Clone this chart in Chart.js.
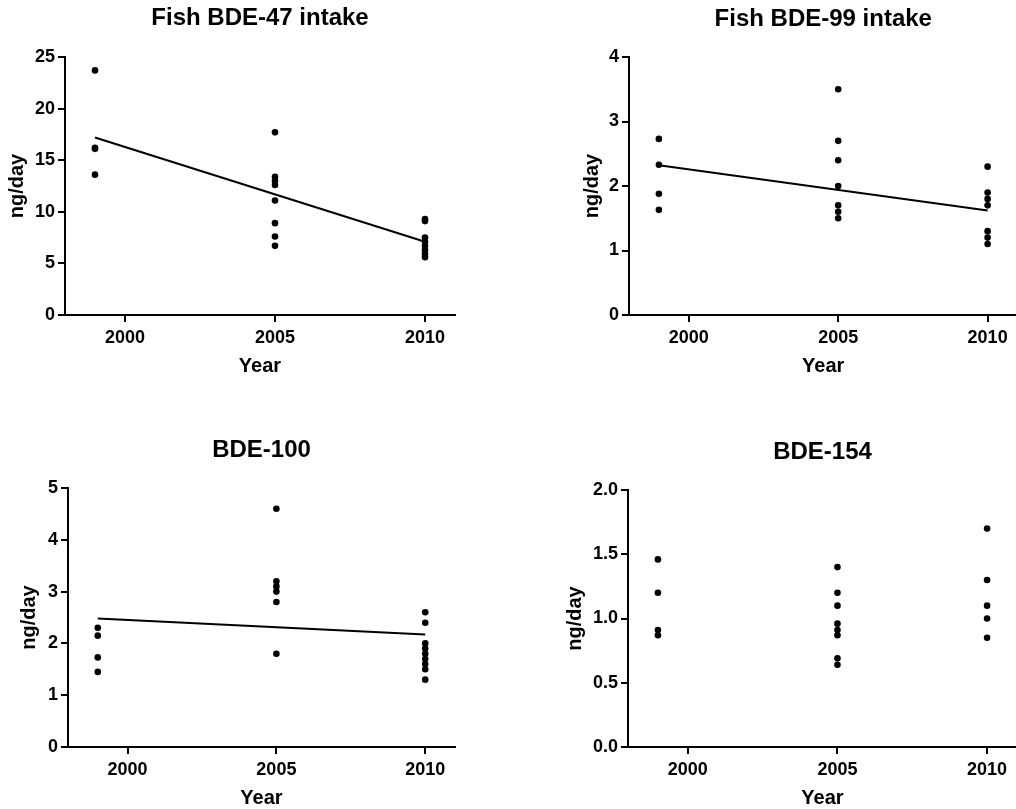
<!DOCTYPE html>
<html>
<head>
<meta charset="utf-8">
<script src="https://cdn.jsdelivr.net/npm/chart.js@4/dist/chart.umd.min.js"></script>
<style>
html, body { margin:0; padding:0; background:#fff; overflow:hidden; width:1016px; height:809px; }
canvas { position:absolute; }
</style>
</head>
<body>
<canvas id="c1" width="520" height="380" style="left:0px;top:0px"></canvas>
<canvas id="c2" width="516" height="380" style="left:564px;top:0px"></canvas>
<canvas id="c3" width="523" height="408" style="left:0px;top:404px"></canvas>
<canvas id="c4" width="522" height="408" style="left:560px;top:404px"></canvas>
<script>
// ---- data ----
const years = [1999, 2005, 2010];
const xTicks = [2000, 2005, 2010];
const fitYears = [1999, 2010];

const bde47_1999 = [23.7, 16.2, 16.1, 13.6];
const bde47_2005 = [17.7, 13.4, 13.0, 12.6, 11.1, 8.9, 7.6, 6.7];
const bde47_2010 = [9.3, 9.1, 7.5, 7.1, 6.7, 6.3, 5.9, 5.6];
const bde47_fit = [17.2, 7.1];

const bde99_1999 = [2.73, 2.33, 1.88, 1.63];
const bde99_2005 = [3.5, 2.7, 2.4, 2.0, 1.7, 1.6, 1.5];
const bde99_2010 = [2.3, 1.9, 1.8, 1.7, 1.3, 1.2, 1.1];
const bde99_fit = [2.32, 1.62];

const bde100_1999 = [2.3, 2.15, 1.73, 1.45];
const bde100_2005 = [4.6, 3.2, 3.1, 3.0, 2.8, 1.8];
const bde100_2010 = [2.6, 2.4, 2.0, 1.9, 1.8, 1.7, 1.6, 1.5, 1.3];
const bde100_fit = [2.48, 2.17];

const bde154_1999 = [1.46, 1.2, 0.91, 0.87];
const bde154_2005 = [1.4, 1.2, 1.1, 0.96, 0.91, 0.87, 0.69, 0.64];
const bde154_2010 = [1.7, 1.3, 1.1, 1.0, 0.85];

const titles = ['Fish BDE-47 intake', 'Fish BDE-99 intake', 'BDE-100', 'BDE-154'];
const yTitle = 'ng/day';
const xTitle = 'Year';

// ---- chart building ----
const FONT = "'Liberation Sans', Arial, Helvetica, sans-serif";

function points(groups) {
  const out = [];
  groups.forEach((vals, i) => vals.forEach(v => out.push({x: years[i], y: v})));
  return out;
}

function makePanel(id, cfg) {
  const datasets = [{
    type: 'scatter',
    data: points(cfg.groups),
    backgroundColor: '#000',
    borderWidth: 0,
    pointRadius: 3.3,
    pointHoverRadius: 3.3
  }];
  if (cfg.fit) {
    datasets.push({
      type: 'line',
      data: fitYears.map((x, i) => ({x: x, y: cfg.fit[i]})),
      borderColor: '#000',
      borderWidth: 2,
      pointRadius: 0,
      fill: false,
      tension: 0
    });
  }
  new Chart(document.getElementById(id), {
    data: { datasets: datasets },
    options: {
      responsive: false,
      animation: false,
      events: [],
      layout: { padding: { left: 0, right: cfg.padRight, top: 0, bottom: 0 } },
      plugins: {
        legend: { display: false },
        tooltip: { enabled: false },
        title: {
          display: true,
          fullSize: false,
          text: cfg.title,
          color: '#000',
          font: { family: FONT, size: 24, weight: 'bold' },
          padding: { top: cfg.titleTop, bottom: cfg.titleBottom }
        }
      },
      scales: {
        x: {
          type: 'linear',
          min: 1998, max: 2011,
          afterBuildTicks: s => { s.ticks = xTicks.map(v => ({value: v})); },
          afterFit: s => { s.height = 65; },
          border: { display: true, color: '#000', width: 2 },
          grid: { drawOnChartArea: false, drawTicks: true, tickLength: 7, color: '#000', lineWidth: 2 },
          ticks: {
            color: '#000', padding: 5, maxRotation: 0, autoSkip: false,
            font: { family: FONT, size: 18, weight: 'bold' },
            callback: v => String(v)
          },
          title: {
            display: true, text: xTitle, color: '#000',
            font: { family: FONT, size: 20, weight: 'bold' },
            padding: { top: 0, bottom: 2 }
          }
        },
        y: {
          type: 'linear',
          min: 0, max: cfg.yMax,
          afterFit: s => { s.width = cfg.yWidth; },
          border: { display: true, color: '#000', width: 2 },
          grid: { drawOnChartArea: false, drawTicks: true, tickLength: 7, color: '#000', lineWidth: 2 },
          ticks: {
            color: '#000', padding: 3, stepSize: cfg.step,
            font: { family: FONT, size: 18, weight: 'bold' },
            callback: v => cfg.decimals ? Number(v).toFixed(cfg.decimals) : String(v)
          },
          title: {
            display: true, text: yTitle, color: '#000',
            font: { family: FONT, size: 20, weight: 'bold' },
            padding: { top: cfg.yTitlePad, bottom: 0 }
          }
        }
      }
    }
  });
}

makePanel('c1', { title: titles[0], groups: [bde47_1999, bde47_2005, bde47_2010], fit: bde47_fit,
  yMax: 25, step: 5, decimals: 0, yWidth: 65, yTitlePad: 5, padRight: 65, titleTop: 4, titleBottom: 24.2 });
makePanel('c2', { title: titles[1], groups: [bde99_1999, bde99_2005, bde99_2010], fit: bde99_fit,
  yMax: 4, step: 1, decimals: 0, yWidth: 65, yTitlePad: 16.5, padRight: 62.5, titleTop: 4.5, titleBottom: 23.7 });
makePanel('c3', { title: titles[2], groups: [bde100_1999, bde100_2005, bde100_2010], fit: bde100_fit,
  yMax: 5, step: 1, decimals: 0, yWidth: 68, yTitlePad: 17, padRight: 68, titleTop: 31.6, titleBottom: 23.6 });
makePanel('c4', { title: titles[3], groups: [bde154_1999, bde154_2005, bde154_2010], fit: null,
  yMax: 2, step: 0.5, decimals: 1, yWidth: 68, yTitlePad: 3, padRight: 65, titleTop: 33.6, titleBottom: 23.6 });
</script>
</body>
</html>
